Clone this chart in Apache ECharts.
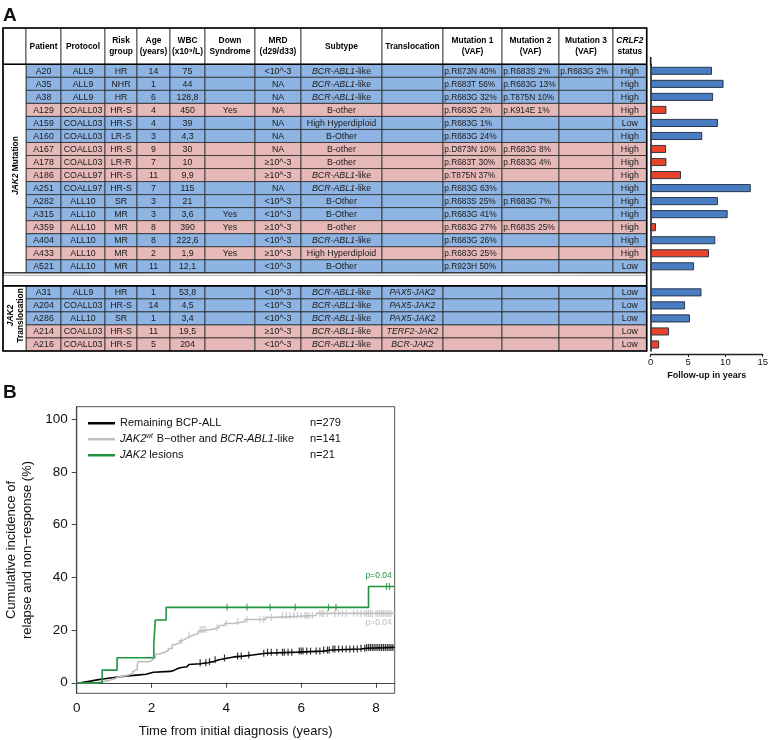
<!DOCTYPE html>
<html><head><meta charset="utf-8">
<script src="https://cdn.jsdelivr.net/npm/echarts@6/dist/echarts.min.js"></script>
<style>html,body{margin:0;padding:0;background:#fff}#c{width:771px;height:740px}</style>
</head><body><div id="c"></div>
<script>
// ---------------- DATA ----------------
const patients = ['A20','A35','A38','A129','A159','A160','A167','A178','A186','A251','A282','A315','A359','A404','A433','A521','A31','A204','A286','A214','A216'];
const groups = [0,0,0,0,0,0,0,0,0,0,0,0,0,0,0,0,1,1,1,1,1];
const protocols = ['ALL9','ALL9','ALL9','COALL03','COALL03','COALL03','COALL03','COALL03','COALL97','COALL97','ALL10','ALL10','ALL10','ALL10','ALL10','ALL10','ALL9','COALL03','ALL10','COALL03','COALL03'];
const riskGroups = ['HR','NHR','HR','HR-S','HR-S','LR-S','HR-S','LR-R','HR-S','HR-S','SR','MR','MR','MR','MR','MR','HR','HR-S','SR','HR-S','HR-S'];
const ages = [14,1,6,4,4,3,9,7,11,7,3,3,8,8,2,11,1,14,1,11,5];
const wbc = ['75','44','128,8','450','39','4,3','30','10','9,9','115','21','3,6','390','222,6','1,9','12,1','53,8','4,5','3,4','19,5','204'];
const downSyndrome = ['','','','Yes','','','','','','','','Yes','Yes','','Yes','','','','','',''];
const mrd = ['<10^-3','NA','NA','NA','NA','NA','NA','≥10^-3','≥10^-3','NA','<10^-3','<10^-3','≥10^-3','<10^-3','≥10^-3','<10^-3','<10^-3','<10^-3','<10^-3','≥10^-3','<10^-3'];
const subtypes = ['BCR-ABL1-like','BCR-ABL1-like','BCR-ABL1-like','B-other','High Hyperdiploid','B-Other','B-other','B-other','BCR-ABL1-like','BCR-ABL1-like','B-Other','B-Other','B-other','BCR-ABL1-like','High Hyperdiploid','B-Other','BCR-ABL1-like','BCR-ABL1-like','BCR-ABL1-like','BCR-ABL1-like','BCR-ABL1-like'];
const translocations = ['','','','','','','','','','','','','','','','','PAX5-JAK2','PAX5-JAK2','PAX5-JAK2','TERF2-JAK2','BCR-JAK2'];
const mutation1 = ['p.R873N 40%','p.R683T 56%','p.R683G 32%','p.R683G 2%','p.R683G 1%','p.R683G 24%','p.D873N 10%','p.R683T 30%','p.T875N 37%','p.R683G 63%','p.R683S 25%','p.R683G 41%','p.R683G 27%','p.R683G 26%','p.R683G 25%','p.R923H 50%','','','','',''];
const mutation2 = ['p.R683S 2%','p.R683G 13%','p.T875N 10%','p.K914E 1%','','','p.R683G 8%','p.R683G 4%','','','p.R683G 7%','','p.R683S 25%','','','','','','','',''];
const mutation3 = ['p.R683G 2%','','','','','','','','','','','','','','','','','','','',''];
const crlf2 = ['High','High','High','High','Low','High','High','High','High','High','High','High','High','High','High','Low','Low','Low','Low','Low','Low'];
const relapse = [0,0,0,1,0,0,1,1,1,0,0,0,1,0,1,0,0,0,0,1,1];
const followUp = [8.2,9.75,8.35,2.1,9.0,6.9,2.05,2.1,4.05,13.4,9.0,10.3,0.7,8.65,7.8,5.8,6.8,4.6,5.25,2.45,1.13];
const groupLabels = ['{bi|JAK2} Mutation', '{bi|JAK2}\nTranslocation'];
const headers = ['Patient','Protocol','Risk\ngroup','Age\n(years)','WBC\n(x10⁹/L)','Down\nSyndrome','MRD\n(d29/d33)','Subtype','Translocation','Mutation 1\n(VAF)','Mutation 2\n(VAF)','Mutation 3\n(VAF)','{bi|CRLF2}\nstatus'];
const followTicks = [0,5,10,15];

// Panel B
const seriesNames = ['Remaining BCP-ALL','JAK2wt B-other and BCR-ABL1-like','JAK2 lesions'];
const seriesN = ['n=279','n=141','n=21'];
const curveRemaining = [[0,0],[0.1,0.4],[0.25,0.7],[0.4,1.1],[0.55,1.4],[0.7,1.8],[0.9,2.2],[1.1,2.5],[1.3,2.9],[1.6,3.2],[1.85,3.6],[1.95,4.0],[2.05,4.3],[2.5,4.7],[2.6,5.4],[2.7,5.8],[2.8,6.1],[2.95,6.5],[3.0,6.9],[3.05,7.2],[3.3,7.6],[3.5,8.0],[3.65,8.3],[3.7,8.7],[3.8,9.4],[4.05,9.8],[4.2,10.1],[4.45,10.5],[4.7,10.8],[4.85,11.2],[5.05,11.6],[5.9,12.0],[6.6,12.4],[6.8,12.8],[7.6,13.1],[7.75,13.4],[8.5,13.4]];
const curveWt = [[0,0],[0.55,0.7],[0.8,1.4],[1.0,2.1],[1.1,2.8],[1.35,3.5],[1.5,4.3],[1.55,5.0],[1.62,7.1],[1.65,8.0],[1.95,8.7],[2.02,9.4],[2.1,10.8],[2.2,11.5],[2.33,12.2],[2.45,13.0],[2.55,14.4],[2.62,15.1],[2.75,15.9],[2.82,16.6],[2.9,17.3],[3.0,18.0],[3.1,18.7],[3.25,19.5],[3.3,20.2],[3.6,20.9],[3.8,21.7],[3.95,22.5],[4.2,23.2],[4.5,24.0],[5.05,24.8],[5.3,25.5],[6.4,26.3],[8.5,26.3]];
const curveJak2 = [[0,0],[0.68,4.8],[1.08,9.5],[2.06,14.3],[2.08,19.0],[2.1,23.8],[2.39,28.6],[7.8,36.5],[8.5,36.5]];
const censorRemaining = [3.3,3.45,3.55,3.7,3.95,4.3,4.4,4.6,5.0,5.1,5.2,5.35,5.5,5.55,5.65,5.75,5.95,6.0,6.05,6.15,6.25,6.4,6.5,6.6,6.7,6.75,6.85,6.9,7.0,7.1,7.2,7.3,7.4,7.5,7.6,7.7,7.75,7.8,7.85,7.9,7.95,8.0,8.05,8.1,8.15,8.2,8.25,8.3,8.35,8.4,8.45];
const censorWt = [2.8,3.0,3.3,3.35,3.4,3.45,3.75,4.0,4.3,4.55,4.9,5.0,5.2,5.5,5.6,5.7,5.8,5.9,6.0,6.1,6.15,6.2,6.3,6.5,6.55,6.6,6.7,6.9,7.0,7.1,7.2,7.4,7.5,7.6,7.7,7.75,7.8,7.85,7.9,8.0,8.05,8.1,8.15,8.2,8.25,8.3,8.35,8.4];
const censorJak2 = [4.02,4.55,5.17,5.84,6.73,6.93,8.28,8.36];
const pValues = ['p=0.04','p=0.04'];
const xTicksB = [0,2,4,6,8];
const yTicksB = [0,20,40,60,80,100];

// ---------------- LAYOUT / STYLE ----------------
const F = '"Liberation Sans", Arial, Helvetica, sans-serif';
const COL_X = [3, 26, 61, 105, 137, 170, 205, 255, 301, 382, 443, 502, 559, 613, 646.7];
const HEADER_H = 36.3;
const BLUE = '#8db4e2', PINK = '#e6b9b8';
const BAR_BLUE = '#4a7cc2', BAR_RED = '#e8432b';
const C_BLACK = '#000000', C_GRAY = '#bfbfbf', C_GREEN = '#23923f';
const FS = 8.8;
const FSM = 8.35;
const FSH = 8.4;

const NROWS = 22;
const rowCats = Array.from({length: NROWS}, (_, i) => String(i));
const rowOf = k => k + (groups[k] === 1 ? 1 : 0);

function fmtCell(col, s) {
  if (!s) return '';
  if (col === 7 && s.indexOf('BCR-ABL1') === 0) return '{i|BCR-ABL1}{n|' + s.slice(8) + '}';
  if (col === 8) return '{i|' + s + '}';
  return s;
}

function renderBody(params, api) {
  const k = params.dataIndex;
  const r = api.value(1);
  const c = api.coord([COL_X[0], r]);
  const h = api.size([0, 1])[1];
  const top = c[1] - h / 2;
  const fill = relapse[k] ? PINK : BLUE;
  const vals = [patients[k], protocols[k], riskGroups[k], String(ages[k]), wbc[k], downSyndrome[k], mrd[k], subtypes[k], translocations[k], mutation1[k], mutation2[k], mutation3[k], crlf2[k]];
  const children = [];
  for (let j = 0; j < vals.length; j++) {
    const x0 = api.coord([COL_X[j + 1], r])[0];
    const x1 = api.coord([COL_X[j + 2], r])[0];
    children.push({type: 'rect', shape: {x: x0, y: top, width: x1 - x0, height: h},
      style: {fill: fill, stroke: '#2a2a2a', lineWidth: 0.8}});
    const left = j >= 9 && j <= 11;
    const fs = left ? FSM : FS;
    children.push({type: 'text', style: {
      x: left ? x0 + 1.2 : (x0 + x1) / 2, y: top + h / 2 + 0.5,
      text: fmtCell(j, vals[j]), align: left ? 'left' : 'center', verticalAlign: 'middle',
      fontSize: fs, fontFamily: F, fill: '#1a1a1a',
      rich: {i: {fontStyle: 'italic', fontSize: fs, fontFamily: F, fill: '#1a1a1a'},
             n: {fontSize: fs, fontFamily: F, fill: '#1a1a1a'}}}});
  }
  return {type: 'group', children};
}

function renderGroup(params, api) {
  const r0 = api.value(1), r1 = api.value(2);
  const h = api.size([0, 1])[1];
  const yT = api.coord([COL_X[0], r0])[1] - h / 2;
  const yB = api.coord([COL_X[0], r1])[1] + h / 2;
  const x0 = api.coord([COL_X[0], r0])[0];
  const x1 = api.coord([COL_X[1], r0])[0];
  return {type: 'group', children: [
    {type: 'rect', shape: {x: x0, y: yT, width: x1 - x0, height: yB - yT}, style: {fill: '#fff', stroke: '#2a2a2a', lineWidth: 0.8}},
    {type: 'text', x: (x0 + x1) / 2 + 1, y: (yT + yB) / 2 - 3, rotation: Math.PI / 2,
      style: {x: 0, y: 0, text: groupLabels[params.dataIndex], align: 'center', verticalAlign: 'middle',
        fontSize: FSH, fontWeight: 'bold', fontFamily: F, fill: '#000', lineHeight: 10,
        rich: {bi: {fontStyle: 'italic', fontWeight: 'bold', fontSize: FSH, fontFamily: F, fill: '#000', lineHeight: 10}}}}
  ]};
}

function renderFrame(params, api) {
  const h = api.size([0, 1])[1];
  const X = COL_X.map(v => api.coord([v, 0])[0]);
  const bodyTop = api.coord([COL_X[0], 0])[1] - h / 2;
  const end1 = api.coord([COL_X[0], 15])[1] + h / 2;
  const top2 = api.coord([COL_X[0], 17])[1] - h / 2;
  const bot = api.coord([COL_X[0], 21])[1] + h / 2;
  const hTop = bodyTop - HEADER_H;
  const children = [];
  for (let j = 0; j < X.length - 1; j++) {
    children.push({type: 'rect', shape: {x: X[j], y: hTop, width: X[j + 1] - X[j], height: HEADER_H},
      style: {fill: '#fff', stroke: '#2a2a2a', lineWidth: 0.8}});
    if (j > 0) {
      children.push({type: 'text', style: {x: (X[j] + X[j + 1]) / 2, y: hTop + HEADER_H / 2 + 0.5,
        text: headers[j - 1], align: 'center', verticalAlign: 'middle', fontSize: FSH, fontWeight: 'bold',
        fontFamily: F, fill: '#000', lineHeight: 11,
        rich: {bi: {fontStyle: 'italic', fontWeight: 'bold', fontSize: FSH, fontFamily: F, fill: '#000', lineHeight: 11}}}});
    }
  }
  const L = (x1, y1, x2, y2, w, col) => ({type: 'line', shape: {x1, y1, x2, y2}, style: {stroke: col || '#000', lineWidth: w}});
  children.push(L(X[0], bodyTop, X[X.length - 1], bodyTop, 1.6));
  children.push(L(X[0], end1, X[X.length - 1], end1, 1.0, '#222'));
  children.push(L(X[0], end1 + 2.5, X[X.length - 1], end1 + 2.5, 0.8, '#9a9a9a'));
  children.push(L(X[0], top2, X[X.length - 1], top2, 1.6));
  children.push({type: 'rect', shape: {x: X[0], y: hTop, width: X[X.length - 1] - X[0], height: bot - hTop},
    style: {fill: null, stroke: '#000', lineWidth: 1.6}});
  return {type: 'group', children};
}

const barData = new Array(NROWS).fill(null);
patients.forEach((p, k) => {
  barData[rowOf(k)] = {value: followUp[k], itemStyle: {color: relapse[k] ? BAR_RED : BAR_BLUE}};
});

function stepAt(curve, t) { let v = 0; for (const [x, y] of curve) { if (x <= t) v = y; } return v; }
const censorPts = (times, curve) => times.map(t => [t, stepAt(curve, t)]);

const legendRich = {
  t: {fontSize: 11, fontFamily: F, color: '#111'},
  i: {fontSize: 11, fontFamily: F, color: '#111', fontStyle: 'italic'},
  s: {fontSize: 6.5, fontFamily: F, color: '#111', fontStyle: 'italic', verticalAlign: 'top', padding: [0, 1, 0, 0]}
};
const legendFmt = {};
legendFmt[seriesNames[0]] = '{t|Remaining BCP-ALL}';
legendFmt[seriesNames[1]] = '{i|JAK2}{s|wt}{t| B−other and }{i|BCR-ABL1}{t|-like}';
legendFmt[seriesNames[2]] = '{i|JAK2}{t| lesions}';

const chart = echarts.init(document.getElementById('c'), null, {renderer: 'canvas'});
const option = {
  animation: false,
  backgroundColor: '#fff',
  textStyle: {fontFamily: F},
  grid: [
    {left: 3, top: 64.3, width: 643.7, height: 286.7},
    {left: 650.7, top: 64.3, width: 114.3, height: 286.7},
    {left: 76.7, top: 406.7, width: 318, height: 286.6, show: true, borderColor: '#555', borderWidth: 1}
  ],
  xAxis: [
    {gridIndex: 0, type: 'value', min: COL_X[0], max: COL_X[COL_X.length - 1], show: false},
    {gridIndex: 1, type: 'value', min: 0, max: 15, offset: 3,
      axisLine: {show: true, lineStyle: {color: '#222', width: 1.4}},
      axisTick: {show: true, length: 3, customValues: followTicks, lineStyle: {color: '#222'}},
      axisLabel: {fontSize: 9.5, color: '#111', margin: 3, customValues: followTicks},
      splitLine: {show: false},
      name: 'Follow-up in years', nameLocation: 'middle', nameGap: 17,
      nameTextStyle: {fontSize: 9, fontWeight: 'bold', color: '#111', fontFamily: F}},
    {gridIndex: 2, type: 'value', min: 0, max: 8.5,
      axisLine: {show: true, lineStyle: {color: '#444', width: 1.2}},
      axisTick: {show: true, length: 5, customValues: xTicksB, lineStyle: {color: '#444'}},
      axisLabel: {fontSize: 13.5, color: '#111', margin: 8, customValues: xTicksB},
      splitLine: {show: false},
      name: 'Time from initial diagnosis (years)', nameLocation: 'middle', nameGap: 32,
      nameTextStyle: {fontSize: 13, color: '#111', fontFamily: F}}
  ],
  yAxis: [
    {gridIndex: 0, type: 'category', data: rowCats, inverse: true, show: false},
    {gridIndex: 1, type: 'category', data: rowCats, inverse: true,
      axisLine: {show: true, lineStyle: {color: '#222', width: 1.6}},
      axisTick: {show: false}, axisLabel: {show: false}},
    {gridIndex: 2, type: 'value', min: -4, max: 104.7,
      axisLine: {show: true, lineStyle: {color: '#444', width: 1.2}},
      axisTick: {show: true, length: 5, customValues: yTicksB, lineStyle: {color: '#444'}},
      axisLabel: {fontSize: 13.5, color: '#111', margin: 9, customValues: yTicksB},
      splitLine: {show: false},
      name: 'Cumulative incidence of\nrelapse and non\u2212response (%)', nameLocation: 'middle', nameGap: 41,
      nameTextStyle: {fontSize: 13, color: '#111', lineHeight: 16, fontFamily: F}}
  ],
  legend: {
    left: 88, top: 417, padding: 0, orient: 'vertical', itemWidth: 27, itemHeight: 2.5, itemGap: 3.5, icon: 'rect',
    selectedMode: false,
    data: seriesNames,
    formatter: name => legendFmt[name],
    textStyle: {fontSize: 11, color: '#111', lineHeight: 12.5, rich: legendRich}
  },
  graphic: [
    {type: 'text', left: 3, top: 6, style: {text: 'A', fontSize: 19, fontWeight: 'bold', fontFamily: F, fill: '#111'}},
    {type: 'text', left: 3, top: 383, style: {text: 'B', fontSize: 19, fontWeight: 'bold', fontFamily: F, fill: '#111'}},
    ...seriesN.map((t, i) => ({type: 'text', x: 310, y: 423.3 + i * 16, style: {text: t, fontSize: 11, fontFamily: F, fill: '#111', verticalAlign: 'middle'}}))
  ],
  series: [
    {type: 'custom', name: 'body', coordinateSystem: 'cartesian2d', xAxisIndex: 0, yAxisIndex: 0,
      encode: {x: 0, y: 1}, renderItem: renderBody, data: patients.map((p, k) => [COL_X[0], rowOf(k)]), z: 2},
    {type: 'custom', name: 'groups', coordinateSystem: 'cartesian2d', xAxisIndex: 0, yAxisIndex: 0,
      encode: {x: 0, y: 1}, renderItem: renderGroup, data: [[COL_X[0], 0, 15], [COL_X[0], 17, 21]], z: 3},
    {type: 'custom', name: 'frame', coordinateSystem: 'cartesian2d', xAxisIndex: 0, yAxisIndex: 0,
      encode: {x: 0, y: 1}, renderItem: renderFrame, data: [[COL_X[0], 0]], z: 4},
    {type: 'bar', name: 'followup', xAxisIndex: 1, yAxisIndex: 1, data: barData, barWidth: 8,
      itemStyle: {borderColor: '#1e2a3a', borderWidth: 0.9}},
    {type: 'line', name: seriesNames[0], xAxisIndex: 2, yAxisIndex: 2, data: curveRemaining, step: 'end',
      showSymbol: false, color: C_BLACK, lineStyle: {width: 1.6, color: C_BLACK}, z: 3},
    {type: 'line', name: seriesNames[1], xAxisIndex: 2, yAxisIndex: 2, data: curveWt, step: 'end',
      showSymbol: false, color: C_GRAY, lineStyle: {width: 1.6, color: C_GRAY}, z: 4,
      markPoint: {symbol: 'circle', symbolSize: 0, silent: true,
        label: {show: true, position: 'inside', formatter: pValues[1], color: C_GRAY, fontSize: 8.5, fontFamily: F},
        data: [{coord: [8.07, 22.8]}]}},
    {type: 'line', name: seriesNames[2], xAxisIndex: 2, yAxisIndex: 2, data: curveJak2, step: 'end',
      showSymbol: false, color: C_GREEN, lineStyle: {width: 1.6, color: C_GREEN}, z: 5,
      markPoint: {symbol: 'circle', symbolSize: 0, silent: true,
        label: {show: true, position: 'inside', formatter: pValues[0], color: C_GREEN, fontSize: 8.5, fontFamily: F},
        data: [{coord: [8.07, 40.6]}]}},
    {type: 'scatter', name: 'cR', xAxisIndex: 2, yAxisIndex: 2, data: censorPts(censorRemaining, curveRemaining),
      symbol: 'rect', symbolSize: [1.2, 7], itemStyle: {color: C_BLACK}, z: 3, silent: true},
    {type: 'scatter', name: 'cW', xAxisIndex: 2, yAxisIndex: 2, data: censorPts(censorWt, curveWt),
      symbol: 'rect', symbolSize: [1.2, 7], itemStyle: {color: C_GRAY}, z: 4, silent: true},
    {type: 'scatter', name: 'cJ', xAxisIndex: 2, yAxisIndex: 2, data: censorPts(censorJak2, curveJak2),
      symbol: 'rect', symbolSize: [1.2, 7], itemStyle: {color: C_GREEN}, z: 5, silent: true}
  ]
};
chart.setOption(option);
const p0 = chart.convertToPixel({xAxisIndex: 1, yAxisIndex: 1}, [0, 0]);
chart.setOption({graphic: [...option.graphic,
  {type: 'line', shape: {x1: p0[0], y1: 57, x2: p0[0], y2: 66}, style: {stroke: '#222', lineWidth: 1.6}}]});
</script></body></html>
